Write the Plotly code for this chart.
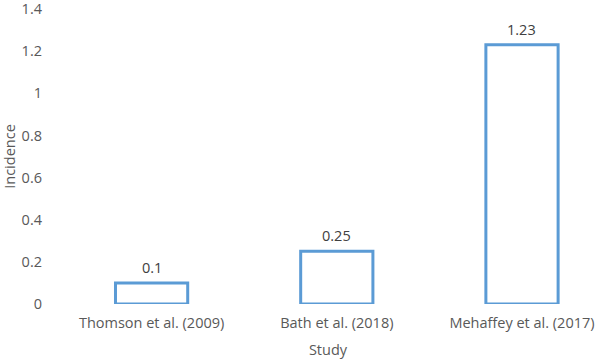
import plotly.graph_objects as go

studies = ["Thomson et al. (2009)", "Bath et al. (2018)", "Mehaffey et al. (2017)"]
incidence = [0.1, 0.25, 1.23]
labels = ["0.1", "0.25", "1.23"]
yticks = [0, 0.2, 0.4, 0.6, 0.8, 1, 1.2, 1.4]
yticklabels = ["0", "0.2", "0.4", "0.6", "0.8", "1", "1.2", "1.4"]

FONT = "Open Sans"
BLUE = "#5B9BD5"
FS = 14.5

fig = go.Figure()
fig.add_trace(go.Bar(
    x=studies, y=incidence, width=0.39,
    marker=dict(color="white", line=dict(color=BLUE, width=3)),
    hoverinfo="skip", cliponaxis=False,
))
for s, v, t in zip(studies, incidence, labels):
    fig.add_annotation(x=s, y=v, text=t, showarrow=False, yanchor="bottom",
                       yshift=4, font=dict(family=FONT, size=FS, color="#404040"))

fig.update_layout(
    width=597, height=361,
    margin=dict(l=59, r=0, t=9, b=57),
    paper_bgcolor="white", plot_bgcolor="white",
    showlegend=False,
    font=dict(family=FONT, size=FS, color="#595959"),
    xaxis=dict(range=[-0.5, 2.405], showgrid=False, zeroline=False, showline=False,
               ticks="", ticklabelstandoff=8, automargin=False, ticklabeloverflow="allow",
               title=dict(text="Study", standoff=14, font=dict(size=FS, color="#595959"))),
    yaxis=dict(range=[0, 1.4001], tickvals=yticks, ticktext=yticklabels, showgrid=False,
               zeroline=False, showline=False, ticks="", ticklabelstandoff=16, automargin=False,
               ticklabeloverflow="allow",
               title=dict(text="Incidence", standoff=10, font=dict(size=FS, color="#595959"))),
)
fig.write_html("out.html", config={"displayModeBar": False},
               post_script="document.body.style.margin='0';")
